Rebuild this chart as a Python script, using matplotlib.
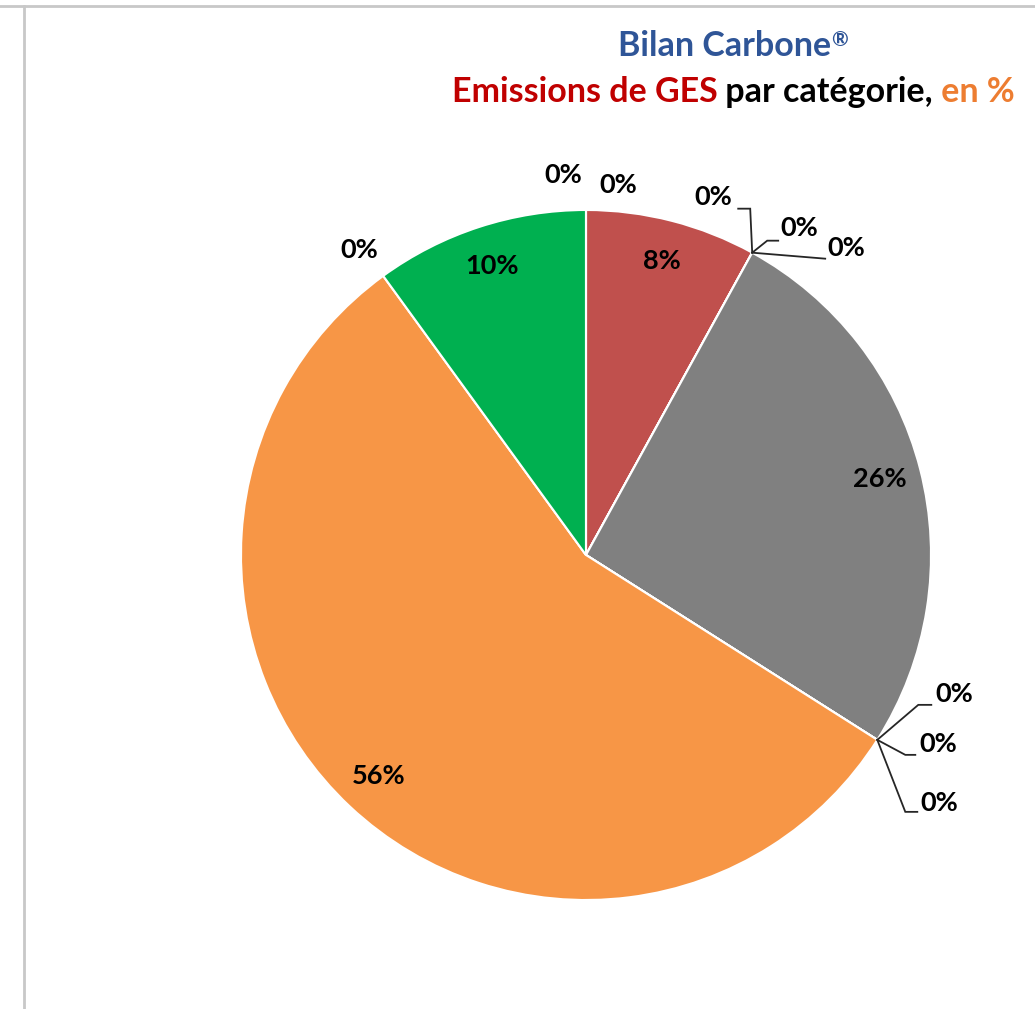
import numpy as np
import matplotlib.pyplot as plt
from matplotlib.lines import Line2D

# categories of the Bilan Carbone (names not shown on the chart)
categories = ["Energie 1", "Energie 2", "Hors energie 1", "Hors energie 2", "Intrants",
              "Fret", "Deplacements", "Dechets directs", "Emballages", "Immobilisations",
              "Utilisation", "Fin de vie", "Autres"]
values = [0, 8, 0, 0, 0, 26, 0, 0, 0, 56, 0, 10, 0]
colors = ["#4F81BD", "#C0504D", "#9BBB59", "#8064A2", "#4BACC6", "#808080", "#1F497D",
          "#FFC000", "#7F7F7F", "#F79646", "#C00000", "#00B050", "#000000"]

W, H = 1035, 1009
CX, CY, R = 586, H - 555, 345
LABEL_SIZE = 19.5
TITLE_SIZE = 24.5

# placement of the "0%" labels: text offset and leader elbow (pixels, y down)
zero_layout = {
    0: ((32, -25), []),
    2: ((-39, -56), [(-2, -44), (-14, -44)]),
    3: ((47, -25), [(15, -12), (26, -12)]),
    4: ((94, -5), [(73, 6)]),
    6: ((77, -46), [(41, -35), (54, -35)]),
    7: ((61, 4), [(28, 15), (38, 15)]),
    8: ((62, 63), [(28, 72), (40, 72)]),
    10: ((-24, -26), []),
    12: ((-23, -35), []),
}

plt.rcParams["font.family"] = ["Lato", "DejaVu Sans"]

fig = plt.figure(figsize=(W / 100, H / 100), dpi=100)
ax = fig.add_axes([0, 0, 1, 1])
ax.pie(values, colors=colors, startangle=90, counterclock=False,
       center=(CX, CY), radius=R,
       wedgeprops=dict(edgecolor="white", linewidth=1.5))
ax.set_xlim(0, W)
ax.set_ylim(0, H)
ax.set_aspect("equal")
ax.axis("off")

total = float(sum(values))
cum = np.cumsum([0] + values) / total
for i, v in enumerate(values):
    t0 = np.pi / 2 - 2 * np.pi * cum[i]
    t1 = np.pi / 2 - 2 * np.pi * cum[i + 1]
    if v > 0:
        tm = (t0 + t1) / 2
        ax.text(CX + 0.88 * R * np.cos(tm), CY + 0.88 * R * np.sin(tm), f"{v}%",
                ha="center", va="center", fontsize=LABEL_SIZE, fontweight="bold",
                color="black")
    else:
        px, py = CX + R * np.cos(t0), CY + R * np.sin(t0)
        (lx, ly), path = zero_layout[i]
        if path:
            xs = [px] + [px + dx for dx, dy in path]
            ys = [py] + [py - dy for dx, dy in path]
            ax.plot(xs, ys, color="#262626", lw=1.3, solid_joinstyle="miter")
        ax.text(px + lx, py - ly, f"{v}%", ha="center", va="center",
                fontsize=LABEL_SIZE, fontweight="bold", color="black")


def title_line(parts, y_px):
    """Draw several coloured pieces side by side, centred at x=733 px."""
    renderer = fig.canvas.get_renderer()
    texts = []
    for s, c, size, dy in parts:
        t = fig.text(0, 1 - (y_px - dy) / H, s, ha="left", va="baseline",
                     fontsize=size, fontweight="bold", color=c)
        texts.append(t)
    widths = [t.get_window_extent(renderer).width for t in texts]
    x = 733 - sum(widths) / 2
    for t, w in zip(texts, widths):
        t.set_x(x / W)
        x += w


title_line([("Bilan Carbone", "#2F5597", TITLE_SIZE, 0),
            ("®", "#2F5597", TITLE_SIZE * 0.6, 10)], 56)
title_line([("Emissions de GES", "#C00000", TITLE_SIZE, 0),
            (" par catégorie,", "#000000", TITLE_SIZE, 0),
            (" en %", "#ED7D31", TITLE_SIZE, 0)], 102)

# frame lines of the sheet
fig.add_artist(Line2D([0, 1], [1 - 6 / H, 1 - 6 / H], transform=fig.transFigure,
                      color="#C8C8C8", lw=2))
fig.add_artist(Line2D([24 / W, 24 / W], [0, 1 - 6 / H], transform=fig.transFigure,
                      color="#C8C8C8", lw=2))

fig.savefig("out.png", dpi=100)
